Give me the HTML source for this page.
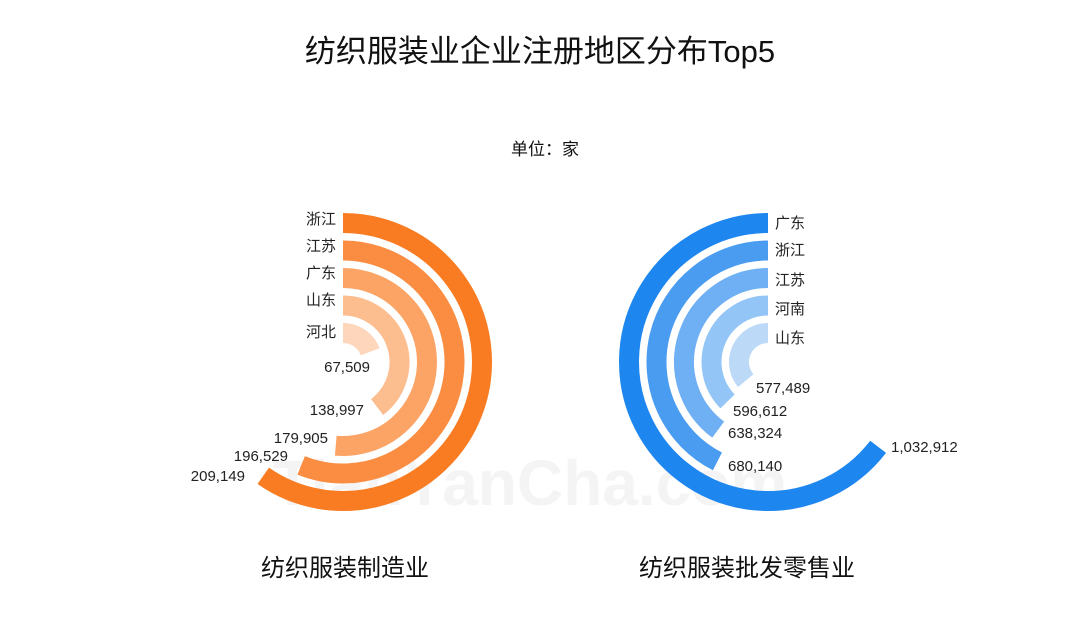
<!DOCTYPE html>
<html><head><meta charset="utf-8"><style>
body{margin:0;width:1080px;height:621px;background:#fff;overflow:hidden;font-family:"Liberation Sans","Noto Sans CJK SC",sans-serif}
</style></head><body>
<svg width="1080" height="621" viewBox="0 0 1080 621" xmlns="http://www.w3.org/2000/svg" font-family="Liberation Sans, Noto Sans CJK SC, sans-serif">
<text x="530" y="505" font-size="64" font-weight="bold" text-anchor="middle" fill="#f4f4f4">TianYanCha.com</text>
<text x="540" y="62" font-size="31" text-anchor="middle" fill="#111">纺织服装业企业注册地区分布Top5</text>
<text x="545" y="155" font-size="17" text-anchor="middle" fill="#111">单位：家</text>
<g fill="none" stroke-width="20" id="L"></g>
<g fill="none" stroke-width="20" id="R"></g>
<g font-size="15" fill="#222">
<text x="336" y="224" text-anchor="end">浙江</text>
<text x="336" y="251" text-anchor="end">江苏</text>
<text x="336" y="278" text-anchor="end">广东</text>
<text x="336" y="305" text-anchor="end">山东</text>
<text x="336" y="337" text-anchor="end">河北</text>
<text x="370" y="372" text-anchor="end">67,509</text>
<text x="364" y="415" text-anchor="end">138,997</text>
<text x="328" y="443" text-anchor="end">179,905</text>
<text x="288" y="461" text-anchor="end">196,529</text>
<text x="245" y="481" text-anchor="end">209,149</text>
<text x="775" y="228">广东</text>
<text x="775" y="255">浙江</text>
<text x="775" y="285">江苏</text>
<text x="775" y="314">河南</text>
<text x="775" y="343">山东</text>
<text x="756" y="393">577,489</text>
<text x="733" y="416">596,612</text>
<text x="728" y="438">638,324</text>
<text x="728" y="471">680,140</text>
<text x="891" y="452">1,032,912</text>
</g>
<text x="345" y="576" font-size="24" text-anchor="middle" fill="#111">纺织服装制造业</text>
<text x="747" y="576" font-size="24" text-anchor="middle" fill="#111">纺织服装批发零售业</text>
</svg>
<script>
function arc(cx,cy,r,deg,dir){
 var a=deg*Math.PI/180;var x=cx+dir*r*Math.sin(a),y=cy-r*Math.cos(a);
 var large=deg>180?1:0;var sweep=dir>0?1:0;
 return "M"+cx+" "+(cy-r)+" A"+r+" "+r+" 0 "+large+" "+sweep+" "+x.toFixed(2)+" "+y.toFixed(2);
}
var ns="http://www.w3.org/2000/svg";
function draw(id,cx,cy,vals,scale,cols,dir){
 var g=document.getElementById(id);
 for(var i=0;i<vals.length;i++){
  var r=139-i*27.5;
  var p=document.createElementNS(ns,"path");
  p.setAttribute("d",arc(cx,cy,r,vals[i]*scale,dir));
  p.setAttribute("stroke",cols[i]);g.appendChild(p);
 }
}
draw("L",343,362,[209149,196529,179905,138997,67509],0.001028,["#f97c22","#fa8d42","#fba466","#fcbd8f","#fdd6bb"],1);
draw("R",768,362,[1032912,680140,638324,596612,577489],0.000225,["#1e86ef","#4a9cf1","#6eb0f3","#93c5f6","#bcdaf8"],-1);
</script>
</body></html>
